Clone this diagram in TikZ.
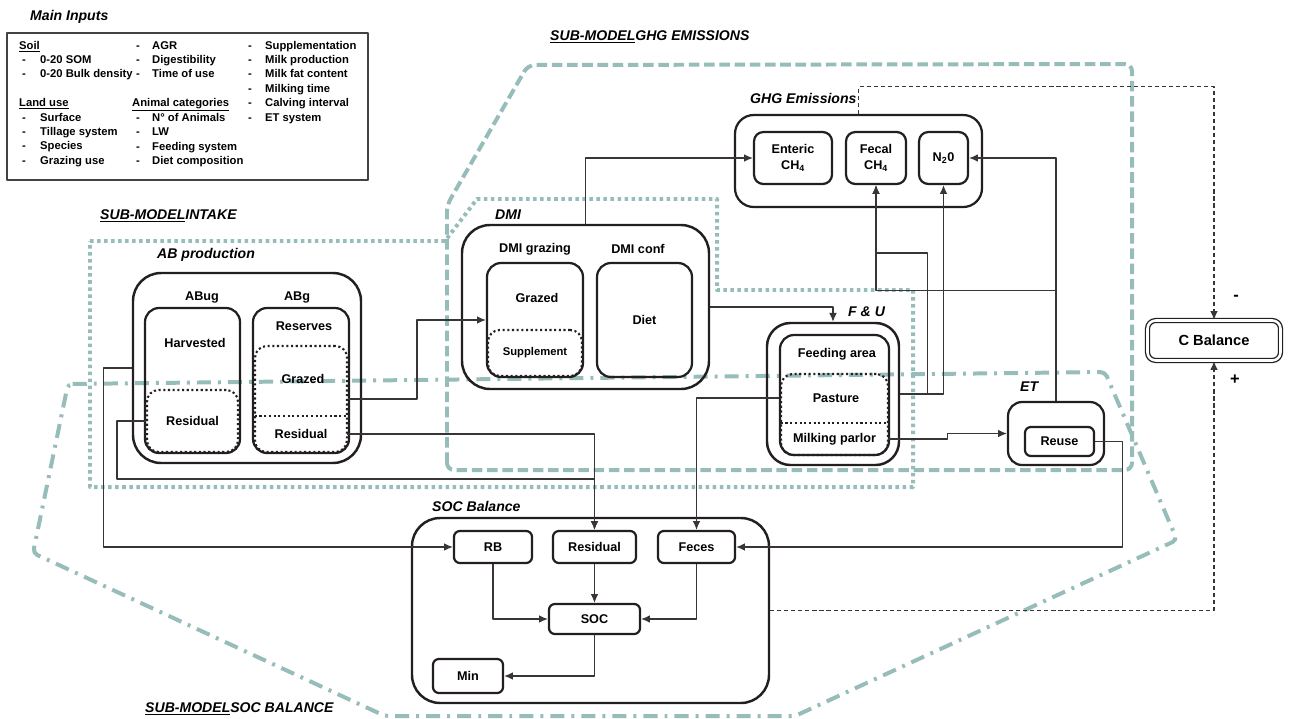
\documentclass[tikz,border=0pt]{standalone}
\usepackage{fontspec}
\setmainfont{Liberation Sans}
\usetikzlibrary{arrows.meta}
\definecolor{ink}{RGB}{35,31,32}
\definecolor{zonecol}{RGB}{150,189,186}
\newdimen\pxu \pxu=0.03cm
\newcommand\boxfont{\fontsize{10.8}{14}\selectfont\bfseries}
\newcommand\suppfont{\fontsize{9.6}{12}\selectfont\bfseries}
\newcommand\ttlfont{\fontsize{12}{14}\selectfont\bfseries\itshape}
\newcommand\infont{\fontsize{9.6}{12.3}\selectfont\bfseries}
\newcommand\cbfont{\fontsize{12.5}{14}\selectfont\bfseries}

\begin{document}
\begin{tikzpicture}[x=0.03cm, y=-0.03cm, line join=round,
	sz/.style 2 args={minimum width=#1*\pxu, minimum height=#2*\pxu},
	obox/.style={draw=ink, line width=2.1pt, rounded corners=24pt, inner sep=0pt},
	ibox/.style={draw=ink, line width=1.9pt, rounded corners=12pt, inner sep=0pt, font=\boxfont},
	mbox/.style={draw=ink, line width=1.9pt, rounded corners=8pt, inner sep=0pt, font=\boxfont},
	sbox/.style={draw=ink, line width=1.9pt, rounded corners=5pt, inner sep=0pt, font=\boxfont},
	dotbox/.style={draw=ink, line width=1.8pt, dash pattern=on 1.8pt off 2.2pt, rounded corners=10pt, inner sep=0pt, font=\boxfont},
	dotln/.style={ink, line width=1.8pt, dash pattern=on 1.8pt off 2.2pt},
	lbl/.style={inner sep=0pt, font=\boxfont},
	ttl/.style={inner sep=0pt, anchor=west, font=\ttlfont},
	incol/.style={anchor=base west, inner sep=0pt, font=\infont},
	sign/.style={inner sep=0pt, font=\fontsize{14}{16}\selectfont\bfseries},
	conn/.style={ink!90, line width=1pt},
	arr/.style={conn, -{Latex[length=7.5pt,width=6.5pt]}},
	dsh/.style={arr, dash pattern=on 3.5pt off 2.5pt},
	zone/.style={zonecol, line width=3.4pt}]
	\useasboundingbox (0,0) rectangle (1290,718);

	\draw[zone, dash pattern=on 3pt off 3pt] (90,241) -- (445,241) -- (477,199) -- (717,199) -- (717,290) -- (913,290) -- (913,487) -- (90,487) -- cycle;
	\draw[zone, dash pattern=on 9pt off 4pt, rounded corners=6pt] (447,470) -- (447,205) -- (528,65) -- (1132,64) -- (1132,470) -- cycle;
	\draw[zone, dash pattern=on 12pt off 6pt on 2.5pt off 6pt, rounded corners=4pt] (68,384) -- (1105,372) -- (1177,540) -- (795,716) -- (385,716) -- (33,553) -- cycle;

	\node[ttl] (inttl) at (30,17) {Main Inputs};
	\node[draw=ink!85, line width=1.2pt, sz={361}{147}] (inbox) at (187.5,106.5) {};
	\node[incol] (incola) at (19,49) {\begin{tabular}[t]{@{}p{21\pxu}@{}l@{}}
		\multicolumn{2}{@{}l@{}}{\underline{Soil}}\\
		\hspace*{3\pxu}- & 0-20 SOM\\
		\hspace*{3\pxu}- & 0-20 Bulk density\\
		& \\
		\multicolumn{2}{@{}l@{}}{\underline{Land use}}\\
		\hspace*{3\pxu}- & Surface\\
		\hspace*{3\pxu}- & Tillage system\\
		\hspace*{3\pxu}- & Species\\
		\hspace*{3\pxu}- & Grazing use
	\end{tabular}};
	\node[incol] (incolb) at (132,49) {\begin{tabular}[t]{@{}p{20\pxu}@{}l@{}}
		\hspace*{4\pxu}- & AGR\\
		\hspace*{4\pxu}- & Digestibility\\
		\hspace*{4\pxu}- & Time of use\\
		& \\
		\multicolumn{2}{@{}l@{}}{\underline{Animal categories}}\\
		\hspace*{4\pxu}- & N° of Animals\\
		\hspace*{4\pxu}- & LW\\
		\hspace*{4\pxu}- & Feeding system\\
		\hspace*{4\pxu}- & Diet composition
	\end{tabular}};
	\node[incol] (incolc) at (248,49) {\begin{tabular}[t]{@{}p{17\pxu}@{}l@{}}
		- & Supplementation\\
		- & Milk production\\
		- & Milk fat content\\
		- & Milking time\\
		- & Calving interval\\
		- & ET system
	\end{tabular}};

	\node[ttl] (smghg) at (550,37) {\underline{SUB-MODEL}GHG EMISSIONS};
	\node[ttl] (smint) at (100,216) {\underline{SUB-MODEL}INTAKE};
	\node[ttl] (smsoc) at (145,709) {\underline{SUB-MODEL}SOC BALANCE};

	\node[ttl] (abttl) at (157,255) {AB production};
	\node[obox, sz={228}{190}] (abprod) at (247,368) {};
	\node[lbl] (abugh) at (202,297) {ABug};
	\node[lbl] (abgh) at (297,297) {ABg};
	\node[ibox, sz={95}{145}] (abug) at (192.5,380.5) {};
	\node[lbl] (harv) at (195,343) {Harvested};
	\node[dotbox, sz={91}{62}] (abugres) at (192.5,421) {Residual};
	\node[ibox, sz={96}{145}] (abg) at (301,380.5) {};
	\node[lbl] (reserv) at (304,326) {Reserves};
	\node[dotbox, sz={92}{106}] (abgdot) at (301,399) {};
	\node[lbl] (abggrz) at (303,379) {Grazed};
	\node[lbl, sz={92}{36}] (abgres) at (301,434) {Residual};
	\draw[dotln] (abgres.north west) -- (abgres.north east);

	\node[ttl] (dmittl) at (495,215) {DMI};
	\node[obox, sz={247}{164}] (dmi) at (585.5,307) {};
	\node[lbl] (dmigh) at (535,249) {DMI grazing};
	\node[lbl] (dmich) at (638,249) {DMI conf};
	\node[ibox, sz={96}{114}] (grazbox) at (535,320) {};
	\node[lbl] (dgrz) at (537,298) {Grazed};
	\node[dotbox, font=\suppfont, sz={94}{46}] (supp) at (535,353) {Supplement};
	\node[ibox, sz={95}{114}] (diet) at (644.5,320) {Diet};

	\node[ttl] (futtl) at (848,312) {F \& U};
	\node[obox, rounded corners=20pt, sz={132}{142}] (fuout) at (833,394) {};
	\node[ibox, sz={109}{120}] (fuin) at (834.5,395) {};
	\node[lbl] (feed) at (837,354) {Feeding area};
	\node[dotbox, sz={107}{81}] (fupm) at (834.5,414.5) {};
	\node[lbl] (past) at (836,398) {Pasture};
	\node[lbl, sz={107}{32}] (milk) at (834.5,439) {Milking parlor};
	\draw[dotln] (milk.north west) -- (milk.north east);

	\node[ttl] (etttl) at (1020,387) {ET};
	\node[ibox, sz={96}{63}] (etout) at (1056,433.5) {};
	\node[sbox, sz={69}{29}] (reuse) at (1059.5,441.5) {Reuse};

	\node[ttl] (ghgttl) at (750,98) {GHG Emissions};
	\node[ibox, rounded corners=16pt, sz={247}{92}] (ghg) at (858.5,161) {};
	\node[mbox, sz={78}{52}, align=center] (enteric) at (793,158) {Enteric\\CH\textsubscript{4}};
	\node[mbox, sz={60}{52}, align=center] (fecal) at (876,158) {Fecal\\CH\textsubscript{4}};
	\node[mbox, sz={49}{52}] (n2o) at (943.5,158) {N\textsubscript{2}0};

	\node[draw=ink, double, double distance=2.2pt, line width=1.1pt, rounded corners=7pt, inner sep=0pt, sz={133}{40}, font=\cbfont] (cbal) at (1214,340.5) {C Balance};
	\node[sign] (minus) at (1236,298) {-};
	\node[sign] (plus) at (1235,380) {+};

	\node[ttl] (socttl) at (432,506) {SOC Balance};
	\node[obox, sz={357}{185}] (socb) at (590.5,610.5) {};
	\node[sbox, sz={78}{32}] (rb) at (493,547) {RB};
	\node[sbox, sz={83}{32}] (resid) at (594.5,547) {Residual};
	\node[sbox, sz={77}{32}] (feces) at (696.5,547) {Feces};
	\node[sbox, sz={91}{30}] (soc) at (594.5,619) {SOC};
	\node[sbox, sz={70}{34}] (minb) at (468,676) {Min};

	\draw[dsh] (ghg.north) -- ++(0,-27) -| (cbal.north);
	\draw[dsh] (socb.east) -| (cbal.south);
	\draw[arr] (dmi.north) |- (enteric.west);
	\draw[arr] (abgdot.east) -- ++(69,0) |- (grazbox.west);
	\draw[arr] (abgres.east) -| (resid.north);
	\draw[arr] (dmi.east) -| (fuout.north);
	\draw[arr] (fuout.east) -| (n2o.south);
	\draw[arr] (fuout.east) -- ++(27,0) -- ++(0,-141) -| (fecal.south);
	\draw[arr] (etout.north) -- ++(0,-110) coordinate (etjoin) -| (fecal.south);
	\draw[arr] (etjoin) |- (n2o.east);
	\draw[arr] (milk.east) -- ++(59,0) |- (etout.west);
	\draw[arr] (reuse.east) -- ++(27,0) |- (feces.east);
	\draw[arr] (fuin.west |- past) -| (feces.north);
	\draw[arr] (abugres.west) -- ++(-29,0) -- ++(0,58) -| (resid.north);
	\draw[arr] (abprod.west) -- ++(-28,0) |- (rb.west);
	\draw[arr] (rb.south) |- (soc.west);
	\draw[arr] (resid.south) -- (soc.north);
	\draw[arr] (feces.south) |- (soc.east);
	\draw[arr] (soc.south) |- (minb.east);
\end{tikzpicture}
\end{document}
